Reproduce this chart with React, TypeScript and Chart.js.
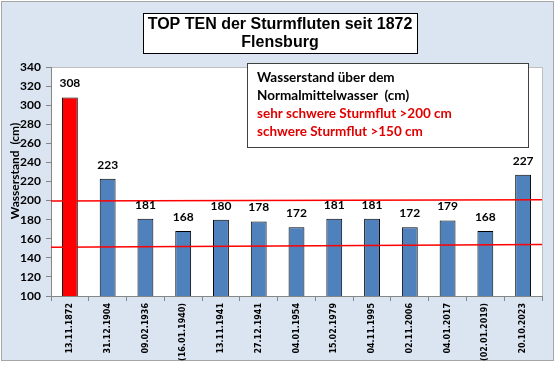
import React, { useEffect, useRef } from "react";
import { Chart, registerables } from "chart.js";

Chart.register(...registerables);

const categories = [
  "13.11.1872", "31.12.1904", "09.02.1936", "(16.01.1940)", "13.11.1941", "27.12.1941",
  "04.01.1954", "15.02.1979", "04.11.1995", "02.11.2006", "04.01.2017", "(02.01.2019)", "20.10.2023",
];
const waterLevels = [308, 223, 181, 168, 180, 178, 172, 181, 181, 172, 179, 168, 227];
const veryHeavyLine = [199.5, 201];
const heavyLine = [151, 154];
const yMin = 100;
const yMax = 340;
const yStep = 20;
const titleLines = ["TOP TEN der Sturmfluten seit 1872", "Flensburg"];
const legendLines = [
  "Wasserstand über dem",
  "Normalmittelwasser  (cm)",
  "sehr schwere Sturmflut >200 cm",
  "schwere Sturmflut >150 cm",
];
const legendColors = ["#000000", "#000000", "#e00000", "#e00000"];
const yAxisLabel = "Wasserstand  (cm)";

const RED = "#ff0000";
const BLUE = "#4f81bd";

const decorPlugin = {
  id: "decor",
  beforeDraw(chart: any) {
    const ctx = chart.ctx;
    const a = chart.chartArea;
    ctx.save();
    ctx.fillStyle = "#ffffff";
    ctx.fillRect(0, 0, chart.width, chart.height);
    ctx.fillStyle = "#dbe5f1";
    ctx.fillRect(1, 1, 552, 359);
    ctx.strokeStyle = "#a6a6a6";
    ctx.lineWidth = 1;
    ctx.strokeRect(1.5, 1.5, 552, 359);
    ctx.fillStyle = "#ffffff";
    ctx.fillRect(a.left, a.top, a.right - a.left, a.bottom - a.top);
    ctx.strokeStyle = "#bfbfbf";
    ctx.strokeRect(a.left + 0.5, a.top + 0.5, a.right - a.left, a.bottom - a.top);
    ctx.restore();
  },
  afterDraw(chart: any) {
    const ctx = chart.ctx;
    ctx.save();
    ctx.fillStyle = "#ffffff";
    ctx.fillRect(143, 13, 274, 40);
    ctx.strokeStyle = "#000000";
    ctx.lineWidth = 1;
    ctx.strokeRect(143.5, 13.5, 274, 40);
    ctx.fillStyle = "#000000";
    ctx.font = "bold 16px 'Liberation Sans', Arial, sans-serif";
    ctx.textAlign = "center";
    ctx.textBaseline = "middle";
    titleLines.forEach((t, i) => ctx.fillText(t, 280, 25 + i * 18));
    ctx.fillStyle = "#ffffff";
    ctx.fillRect(247, 63, 281, 84);
    ctx.strokeStyle = "#404040";
    ctx.strokeRect(247.5, 63.5, 281, 84);
    ctx.font = "bold 13.5px Lato, sans-serif";
    ctx.textAlign = "left";
    legendLines.forEach((t, i) => {
      ctx.fillStyle = legendColors[i];
      ctx.fillText(t, 257, 78 + i * 18);
    });
    ctx.translate(15, 171);
    ctx.rotate(-Math.PI / 2);
    ctx.textAlign = "center";
    ctx.fillStyle = "#000000";
    ctx.font = "bold 12px Lato, sans-serif";
    ctx.fillText(yAxisLabel, 0, 0);
    ctx.restore();
  },
};

const valueLabelPlugin = {
  id: "valueLabels",
  afterDatasetsDraw(chart: any) {
    const ctx = chart.ctx;
    const meta = chart.getDatasetMeta(0);
    ctx.save();
    ctx.font = "bold 12px Lato, sans-serif";
    ctx.fillStyle = "#000000";
    ctx.textAlign = "center";
    ctx.textBaseline = "bottom";
    meta.data.forEach((bar: any, i: number) => {
      ctx.fillText(String(waterLevels[i]), bar.x, bar.y - 8);
    });
    ctx.restore();
  },
};

export default function App() {
  const ref = useRef<HTMLCanvasElement>(null);
  useEffect(() => {
    document.body.style.margin = "0";
    const chart = new Chart(ref.current!, {
      type: "bar",
      data: {
        labels: categories,
        datasets: [
          {
            type: "bar",
            data: waterLevels,
            backgroundColor: waterLevels.map((_, i) => (i === 0 ? RED : BLUE)),
            borderColor: "#000000",
            borderWidth: 1,
            barPercentage: 0.42,
            categoryPercentage: 1,
            grouped: false,
            order: 2,
          } as any,
          {
            type: "line",
            xAxisID: "x2",
            data: [{ x: 0, y: veryHeavyLine[0] }, { x: 1, y: veryHeavyLine[1] }],
            borderColor: RED,
            borderWidth: 1.5,
            pointRadius: 0,
            order: 1,
          } as any,
          {
            type: "line",
            xAxisID: "x2",
            data: [{ x: 0, y: heavyLine[0] }, { x: 1, y: heavyLine[1] }],
            borderColor: RED,
            borderWidth: 1.5,
            pointRadius: 0,
            order: 1,
          } as any,
        ],
      },
      options: {
        responsive: false,
        animation: false,
        layout: { padding: { top: 67, right: 18, left: 0, bottom: 0 } },
        plugins: { legend: { display: false }, tooltip: { enabled: false }, title: { display: false } },
        scales: {
          x: {
            type: "category",
            offset: true,
            grid: { drawOnChartArea: false, offset: true, tickLength: 5, color: "#868686" },
            border: { color: "#868686" },
            ticks: {
              minRotation: 90,
              maxRotation: 90,
              autoSkip: false,
              padding: 2,
              color: "#000000",
              font: { family: "'DejaVu Sans', Verdana, sans-serif", weight: "bold", size: 8 },
            },
            afterFit: (s: any) => { s.height = 80; },
          },
          x2: { type: "linear", min: 0, max: 1, offset: false, display: false },
          y: {
            min: yMin,
            max: yMax,
            grid: { drawOnChartArea: false, tickLength: 5, color: "#868686" },
            border: { color: "#868686" },
            ticks: {
              stepSize: yStep,
              padding: 5,
              color: "#000000",
              font: { family: "Lato, sans-serif", weight: "bold", size: 12 },
            },
            afterFit: (s: any) => { s.width = 51; },
          },
        },
      } as any,
      plugins: [decorPlugin, valueLabelPlugin],
    });
    return () => chart.destroy();
  }, []);
  return <canvas ref={ref} width={560} height={376} style={{ display: "block" }} />;
}
